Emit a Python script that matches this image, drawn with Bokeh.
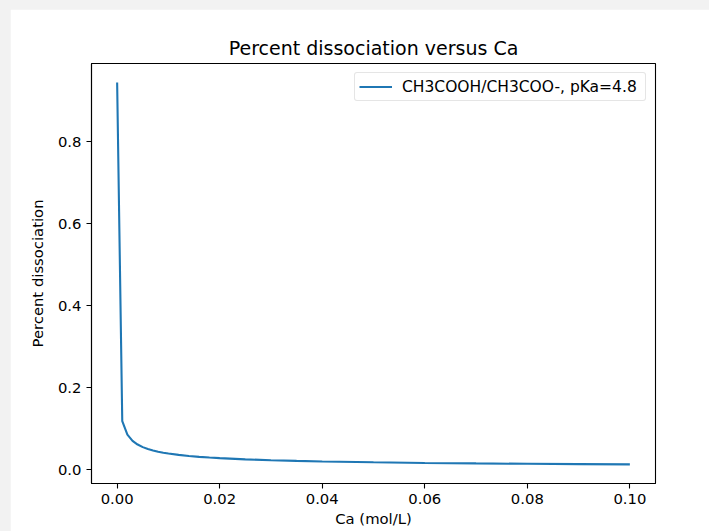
from bokeh.plotting import figure
from bokeh.models import Range1d, FixedTicker
from bokeh.embed import file_html
from bokeh.resources import INLINE

# Concentration of acid Ca (mol/L) and fraction dissociated
ca = [0.000001, 0.001, 0.002, 0.003, 0.004, 0.005, 0.006, 0.007, 0.008, 0.009,
      0.010, 0.012, 0.014, 0.016, 0.018, 0.020, 0.025, 0.030, 0.035, 0.040,
      0.050, 0.060, 0.070, 0.080, 0.090, 0.100]
alpha = [0.944, 0.1182, 0.0851, 0.0701, 0.0610, 0.0547, 0.0501, 0.0465, 0.0435, 0.0411,
         0.0390, 0.0357, 0.0331, 0.0310, 0.0292, 0.02775, 0.02486, 0.02272, 0.02105, 0.01971,
         0.01765, 0.01612, 0.01493, 0.01398, 0.01318, 0.01251]

series_label = "CH3COOH/CH3COO-, pKa=4.8"
x_ticks = [0.0, 0.02, 0.04, 0.06, 0.08, 0.10]
x_tick_labels = ["0.00", "0.02", "0.04", "0.06", "0.08", "0.10"]
y_ticks = [0.0, 0.2, 0.4, 0.6, 0.8]
y_tick_labels = ["0.0", "0.2", "0.4", "0.6", "0.8"]

FONT = "DejaVu Sans"
TICK_SIZE = "14.8px"

p = figure(width=699, height=522, output_backend="svg", toolbar_location=None,
           x_range=Range1d(-0.005, 0.105), y_range=Range1d(-0.03406, 0.99057),
           min_border_left=81, min_border_right=54, min_border_top=54, min_border_bottom=48,
           title="Percent dissociation versus Ca")

p.background_fill_color = "white"
p.border_fill_color = "white"
p.outline_line_color = "black"
p.outline_line_width = 1.1
p.grid.visible = False

p.title.align = "center"
p.title.text_font = FONT
p.title.text_font_size = "19px"
p.title.text_font_style = "normal"
p.title.text_color = "black"

p.line(ca, alpha, line_color="#1f77b4", line_width=2.1, legend_label=series_label)

for ax in (p.xaxis[0], p.yaxis[0]):
    ax.axis_line_color = "black"
    ax.axis_line_width = 1.1
    ax.major_tick_line_color = "black"
    ax.major_tick_line_width = 1.1
    ax.major_tick_out = 5
    ax.major_tick_in = 0
    ax.minor_tick_line_color = None
    ax.major_label_text_font = FONT
    ax.major_label_text_font_size = TICK_SIZE
    ax.major_label_text_color = "black"
    ax.axis_label_text_font = FONT
    ax.axis_label_text_font_size = TICK_SIZE
    ax.axis_label_text_font_style = "normal"
    ax.axis_label_text_color = "black"

p.xaxis.major_label_standoff = 5
p.yaxis.major_label_standoff = 5
p.xaxis.ticker = FixedTicker(ticks=x_ticks)
p.xaxis.major_label_overrides = {t: l for t, l in zip(x_ticks, x_tick_labels)}
p.yaxis.ticker = FixedTicker(ticks=y_ticks)
p.yaxis.major_label_overrides = {t: l for t, l in zip(y_ticks, y_tick_labels)}
p.xaxis.axis_label = "Ca (mol/L)"
p.yaxis.axis_label = "Percent dissociation"
p.xaxis.axis_label_standoff = 3
p.yaxis.axis_label_standoff = 9

lg = p.legend[0]
lg.location = "top_right"
lg.margin = 9
lg.padding = 4
lg.spacing = 0
lg.glyph_width = 33
lg.glyph_height = 19
lg.label_standoff = 10
lg.label_width = 239
lg.label_text_font = FONT
lg.label_text_font_size = "15.5px"
lg.label_text_color = "black"
lg.border_line_color = "#cccccc"
lg.border_line_width = 1
lg.border_radius = 3
lg.background_fill_color = "white"
lg.background_fill_alpha = 0.8

html = file_html(p, INLINE, title="Percent dissociation versus Ca")
html = html.replace("</head>", "<style>html, body {background:#f2f2f2;} body {padding:9px 0 0 10px !important; margin:0 !important; overflow:hidden;}</style></head>", 1)
open("out.html", "w").write(html)
